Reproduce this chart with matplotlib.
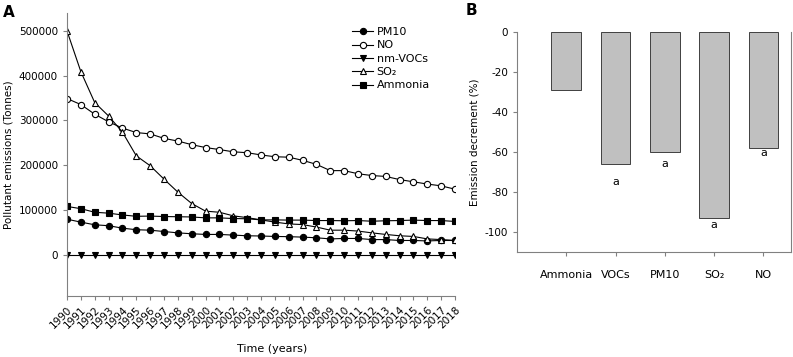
import matplotlib
matplotlib.use("Agg")
import matplotlib.pyplot as plt

# Dados - painel A
anos = list(range(1990, 2019))
pm10 = [79500, 73000, 67000, 65000, 59500, 56000, 55000, 52000, 49000, 47000,
        45500, 45500, 44000, 42500, 42000, 41000, 40500, 39500, 38000, 35500,
        36500, 36500, 34000, 34000, 32000, 32000, 31000, 32000, 32000]
no = [349000, 335500, 314000, 297000, 283000, 273000, 270000, 260000, 254000, 246000,
      239500, 235000, 230000, 228000, 223000, 219000, 218000, 211000, 202000, 188000,
      188000, 181000, 177000, 175000, 168000, 163000, 158000, 154000, 146500]
nm_vocs = [0] * 29
so2 = [500000, 409000, 340000, 310000, 274000, 221000, 199000, 169000, 140000, 114500,
       97500, 95000, 87000, 83000, 78000, 73000, 69000, 67500, 62000, 55000,
       55000, 53000, 49000, 45500, 42500, 41000, 35500, 34000, 32000]
amonia = [108000, 103000, 95000, 93000, 89000, 86000, 86500, 85500, 85000, 84500,
          82500, 82500, 81000, 80500, 78000, 78000, 77500, 77500, 76500, 76500,
          76000, 76500, 75000, 76000, 76500, 77500, 76500, 76500, 74500]

# Dados - painel B
categorias = ["Ammonia", "VOCs", "PM10", "SO₂", "NO"]
decremento = [-29.2, -66.0, -60.1, -93.2, -57.8]
letras = ["", "a", "a", "a", "a"]
pos_letras = [None, -74.8, -66.0, -96.7, -60.3]

plt.rcParams["font.family"] = "DejaVu Sans"
plt.rcParams["font.size"] = 7.5
plt.rcParams["axes.unicode_minus"] = False

fig = plt.figure(figsize=(7.93, 3.57), dpi=100)
W, H = 793, 357

# Painel A
axA = fig.add_axes([67 / W, (H - 296) / H, (455 - 67) / W, (296 - 13) / H])
estilo = dict(color="black", linewidth=0.8, markersize=4.5, markeredgewidth=0.8)
axA.plot(anos, pm10, marker="o", markerfacecolor="black", label="PM10", **estilo)
axA.plot(anos, no, marker="o", markerfacecolor="white", label="NO", **estilo)
axA.plot(anos, nm_vocs, marker="v", markerfacecolor="black", label="nm-VOCs", **estilo)
axA.plot(anos, so2, marker="^", markerfacecolor="white", label="SO₂", **estilo)
axA.plot(anos, amonia, marker="s", markerfacecolor="black", label="Ammonia", **estilo)

axA.set_xlim(1990, 2018)
axA.set_ylim(-92000, 540000)
axA.set_yticks([0, 100000, 200000, 300000, 400000, 500000])
axA.set_xticks(anos)
axA.set_xticklabels([str(a) for a in anos], rotation=45, ha="right",
                    rotation_mode="anchor")
for lado in ["top", "right"]:
    axA.spines[lado].set_visible(False)
for lado in ["left", "bottom"]:
    axA.spines[lado].set_color("#808080")
    axA.spines[lado].set_linewidth(0.8)
axA.tick_params(color="#808080", length=3, width=0.8)
axA.set_xlabel("Time (years)", fontsize=8)
axA.xaxis.set_label_coords(0.528, -0.17)
axA.set_ylabel("Pollutant emissions (Tonnes)", labelpad=4)
axA.legend(loc="upper left", bbox_to_anchor=(0.735, 0.95), frameon=False, fontsize=8,
           handlelength=1.9, handletextpad=0.3, labelspacing=0.3, borderaxespad=0,
           borderpad=0)

# Painel B
axB = fig.add_axes([517 / W, (H - 252) / H, (791 - 517) / W, (252 - 32) / H])
x = list(range(len(categorias)))
axB.bar(x, decremento, width=0.6, color="#c0c0c0", edgecolor="#404040", linewidth=0.7)
for xi, letra, yl in zip(x, letras, pos_letras):
    if letra:
        axB.text(xi, yl, letra, ha="center", va="center", fontsize=8)
axB.set_xlim(-1, 4.56)
axB.set_ylim(-110, 0)
axB.set_yticks([0, -20, -40, -60, -80, -100])
axB.set_xticks(x)
axB.set_xticklabels(categorias, fontsize=8)
axB.spines["top"].set_visible(False)
for lado in ["left", "bottom", "right"]:
    axB.spines[lado].set_color("#808080")
    axB.spines[lado].set_linewidth(0.8)
axB.tick_params(color="#808080", length=3, width=0.8)
axB.tick_params(axis="x", pad=10)
axB.set_ylabel("Emission decrement (%)", labelpad=4)

fig.text(3 / W, (H - 17) / H, "A", fontsize=11, fontweight="bold")
fig.text(466 / W, (H - 15) / H, "B", fontsize=11, fontweight="bold")

fig.savefig("out.png", dpi=100)
